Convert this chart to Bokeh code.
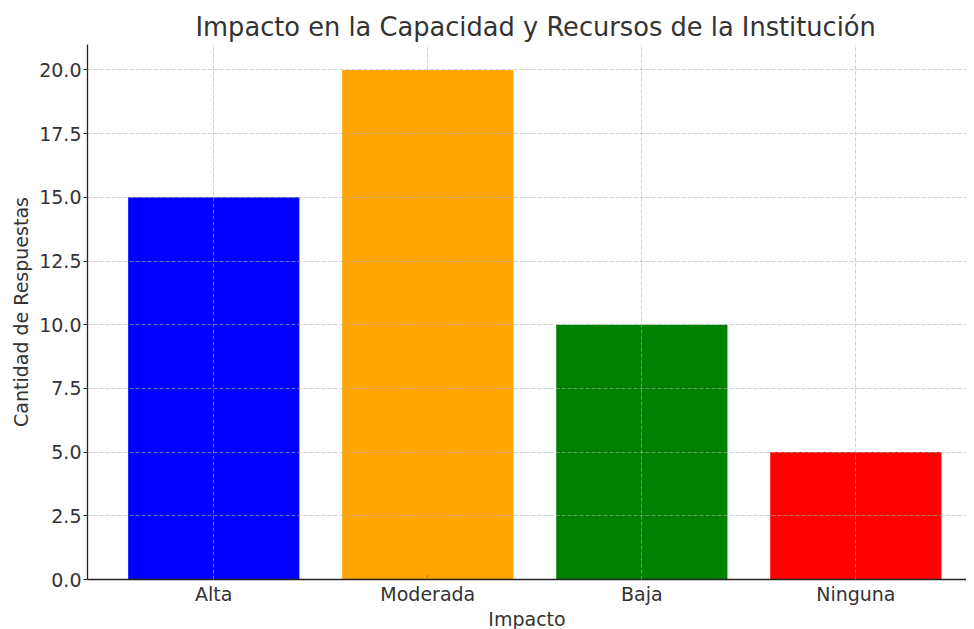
from bokeh.plotting import figure
from bokeh.models import ColumnDataSource, Range1d, FixedTicker, NumeralTickFormatter, Title
from bokeh.embed import file_html
from bokeh.resources import INLINE

categories = ["Alta", "Moderada", "Baja", "Ninguna"]
values = [15, 20, 10, 5]
colors = ["#0000ff", "#ffa500", "#008000", "#ff0000"]
y_ticks = [0, 2.5, 5, 7.5, 10, 12.5, 15, 17.5, 20]

FONT = "DejaVu Sans"
TXT = "#333333"

positions = list(range(len(categories)))
src = ColumnDataSource(dict(x=positions, top=values, color=colors, name=categories))

p = figure(
    frame_width=879, frame_height=535,
    x_range=Range1d(-0.59, 3.517), y_range=Range1d(0, 21),
    output_backend="svg", toolbar_location=None,
    min_border_left=87, min_border_right=0, min_border_top=44, min_border_bottom=41,
)
p.title = None
p.add_layout(Title(text="Impacto en la Capacidad y Recursos de la Institución",
                   align="left", offset=108, text_font=FONT, text_font_size="25.7px",
                   text_font_style="normal", text_color=TXT, standoff=6), "above")

p.vbar(x="x", top="top", width=0.8, source=src, fill_color="color", line_color=None)

p.outline_line_color = None
p.background_fill_color = "white"
p.border_fill_color = "white"

# axes
p.xaxis.ticker = FixedTicker(ticks=positions)
p.xaxis.major_label_overrides = {i: c for i, c in enumerate(categories)}
p.yaxis.ticker = FixedTicker(ticks=y_ticks)
p.yaxis.formatter = NumeralTickFormatter(format="0.0")
p.xaxis.axis_label = "Impacto"
p.yaxis.axis_label = "Cantidad de Respuestas"
for ax in (p.xaxis, p.yaxis):
    ax.axis_label_text_font = FONT
    ax.axis_label_text_font_size = "19px"
    ax.axis_label_text_font_style = "normal"
    ax.axis_label_text_color = TXT
    ax.major_label_text_font = FONT
    ax.major_label_text_font_size = "19px"
    ax.major_label_text_color = TXT
    ax.axis_line_color = "#222222"
    ax.axis_line_width = 1.3
    ax.major_tick_line_color = "#222222"
    ax.minor_tick_line_color = None
p.xaxis.major_tick_in = 4
p.xaxis.major_tick_out = 0
p.xaxis.major_label_standoff = 3
p.xaxis.axis_label_standoff = 0
p.yaxis.major_tick_in = 0
p.yaxis.major_tick_out = 4
p.yaxis.major_label_standoff = 2
p.yaxis.axis_label_standoff = 4

# grid
p.xgrid.ticker = FixedTicker(ticks=positions)
p.ygrid.ticker = FixedTicker(ticks=y_ticks)
for g in (p.xgrid, p.ygrid):
    g.grid_line_color = "#b0b0b0"
    g.grid_line_alpha = 0.6
    g.grid_line_dash = "4 2"
    g.grid_line_width = 1
    g.level = "overlay"

open("out.html", "w").write(file_html(p, INLINE))
